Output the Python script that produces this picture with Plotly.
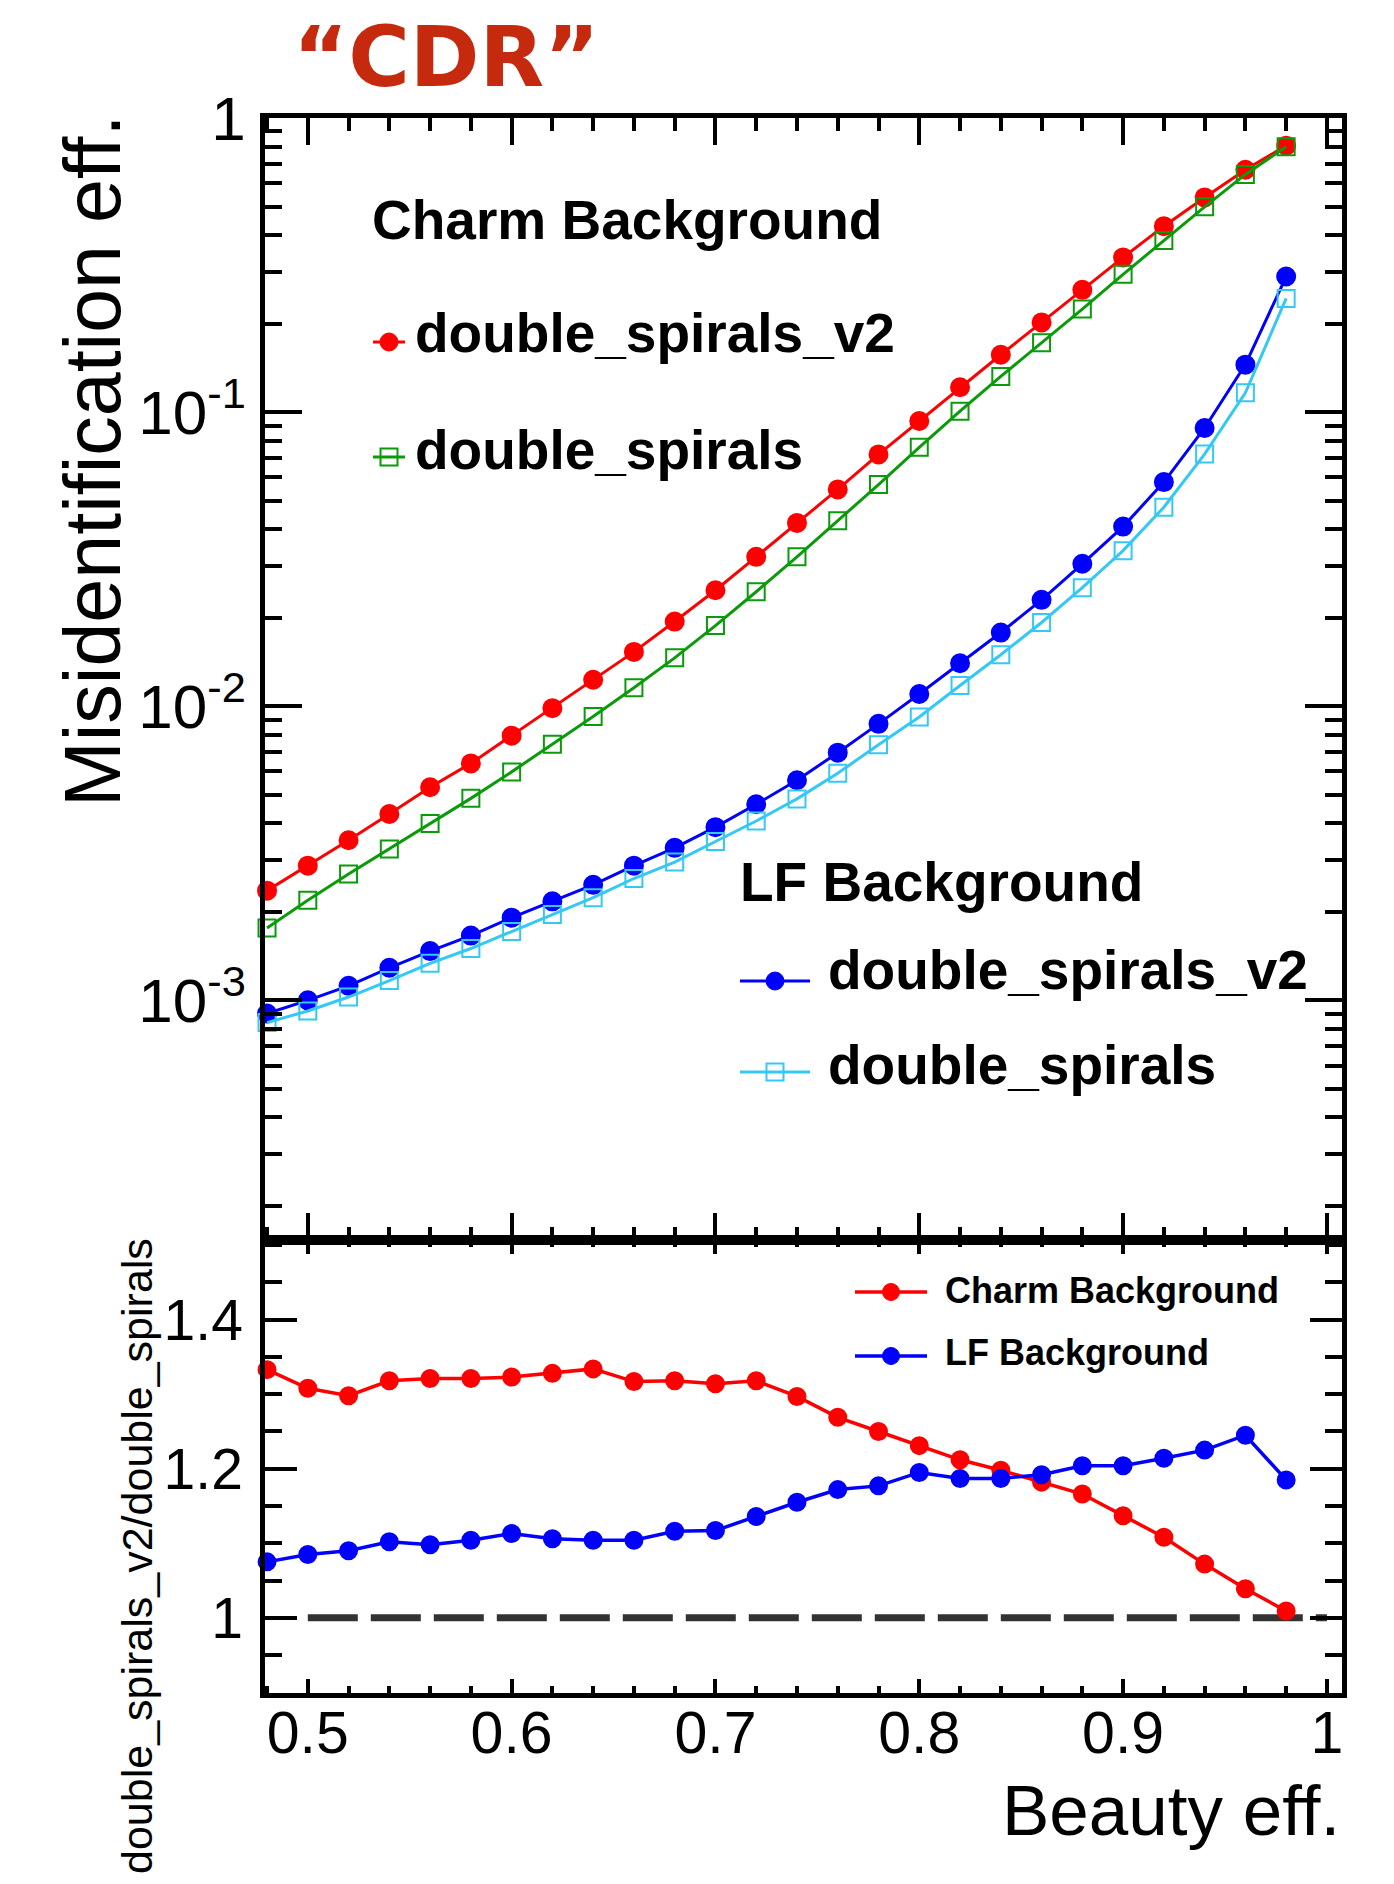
import plotly.graph_objects as go

# ---------------- data ----------------
beauty_eff = [0.48, 0.50, 0.52, 0.54, 0.56, 0.58, 0.60, 0.62, 0.64, 0.66, 0.68, 0.70, 0.72,
              0.74, 0.76, 0.78, 0.80, 0.82, 0.84, 0.86, 0.88, 0.90, 0.92, 0.94, 0.96, 0.98]

charm_double_spirals_v2 = [2.36e-3, 2.87e-3, 3.50e-3, 4.30e-3, 5.30e-3, 6.39e-3, 7.94e-3, 9.85e-3,
                           1.23e-2, 1.53e-2, 1.94e-2, 2.48e-2, 3.22e-2, 4.20e-2, 5.46e-2, 7.18e-2,
                           9.33e-2, 0.1215, 0.1567, 0.2018, 0.2604, 0.3357, 0.4287, 0.537, 0.667, 0.805]

charm_double_spirals = [1.76e-3, 2.19e-3, 2.69e-3, 3.27e-3, 3.99e-3, 4.86e-3, 5.98e-3, 7.42e-3,
                        9.23e-3, 1.156e-2, 1.46e-2, 1.88e-2, 2.45e-2, 3.22e-2, 4.27e-2, 5.67e-2,
                        7.59e-2, 0.1007, 0.1322, 0.172, 0.224, 0.294, 0.383, 0.499, 0.643, 0.798]

lf_double_spirals_v2 = [9.02e-4, 1.00e-3, 1.12e-3, 1.29e-3, 1.47e-3, 1.66e-3, 1.91e-3, 2.17e-3,
                        2.47e-3, 2.87e-3, 3.30e-3, 3.88e-3, 4.64e-3, 5.60e-3, 6.95e-3, 8.71e-3,
                        1.10e-2, 1.40e-2, 1.78e-2, 2.30e-2, 3.05e-2, 4.08e-2, 5.78e-2, 8.83e-2, 0.145, 0.289]

lf_double_spirals = [8.40e-4, 9.20e-4, 1.026e-3, 1.167e-3, 1.336e-3, 1.50e-3, 1.713e-3, 1.958e-3,
                     2.233e-3, 2.595e-3, 2.952e-3, 3.467e-3, 4.07e-3, 4.84e-3, 5.92e-3, 7.39e-3,
                     9.19e-3, 1.176e-2, 1.496e-2, 1.926e-2, 2.53e-2, 3.38e-2, 4.75e-2, 7.20e-2, 0.1163, 0.2435]

ratio_charm = [1.333, 1.308, 1.298, 1.318, 1.321, 1.321, 1.323, 1.328, 1.334, 1.317, 1.318, 1.314, 1.318,
               1.297, 1.269, 1.250, 1.231, 1.212, 1.198, 1.182, 1.166, 1.137, 1.108, 1.072, 1.039, 1.009]

ratio_lf = [1.075, 1.085, 1.090, 1.102, 1.098, 1.104, 1.113, 1.106, 1.104, 1.104, 1.116, 1.117, 1.136,
            1.155, 1.172, 1.177, 1.195, 1.187, 1.187, 1.192, 1.204, 1.204, 1.214, 1.225, 1.245, 1.185]

unity_x = [0.5, 1.0]
unity_y = [1.0, 1.0]

x_tickvals = [0.5, 0.6, 0.7, 0.8, 0.9, 1.0]
x_ticktext = ["0.5", "0.6", "0.7", "0.8", "0.9", "1"]
upper_y_tickvals = [1e-3, 1e-2, 1e-1, 1.0]
upper_y_ticktext = ["10<sup>-3</sup>", "10<sup>-2</sup>", "10<sup>-1</sup>", "1"]
lower_y_tickvals = [1.0, 1.2, 1.4]
lower_y_ticktext = ["1", "1.2", "1.4"]

# ---------------- styling / layout helpers ----------------
W, H = 1394, 1884
RED, GREEN, BLUE, CYAN = "#ff0000", "#0a9a0a", "#0000ff", "#36c8f5"
FONT = "Liberation Sans, Arial, Helvetica, sans-serif"


def px(x):
    return x / W


def py(y):
    return 1 - y / H


X_DOM = [px(265), px(1342)]
UP_DOM = [py(1240), py(118)]
LO_DOM = [py(1693), py(1240)]
X_RANGE = [0.479, 1.0074]

log_minor = [m * 10.0 ** e for e in (-4, -3, -2, -1) for m in range(2, 10)]

fig = go.Figure()


def add_series(x, y, color, symbol, xa, ya, size, lw):
    fig.add_trace(go.Scatter(
        x=x, y=y, mode="lines+markers", xaxis=xa, yaxis=ya, showlegend=False,
        cliponaxis=False,
        line=dict(color=color, width=lw),
        marker=dict(color=color, symbol=symbol, size=size,
                    line=dict(color=color, width=2))))


add_series(beauty_eff, charm_double_spirals_v2, RED, "circle", "x", "y", 18, 3)
add_series(beauty_eff, charm_double_spirals, GREEN, "square-open", "x", "y", 17, 3)
add_series(beauty_eff, lf_double_spirals_v2, BLUE, "circle", "x", "y", 18, 3)
add_series(beauty_eff, lf_double_spirals, CYAN, "square-open", "x", "y", 17, 3)

fig.add_trace(go.Scatter(x=unity_x, y=unity_y, mode="lines", xaxis="x2", yaxis="y2",
                         showlegend=False,
                         line=dict(color="#333333", width=7, dash="50px,13px")))
add_series(beauty_eff, ratio_charm, RED, "circle", "x2", "y2", 17, 3.5)
add_series(beauty_eff, ratio_lf, BLUE, "circle", "x2", "y2", 17, 3.5)

common_axis = dict(showline=True, linewidth=4.5, linecolor="black", mirror="ticks",
                   ticks="inside", tickwidth=3.5, tickcolor="black",
                   showgrid=False, zeroline=False, automargin=False)

fig.update_layout(
    width=W, height=H, margin=dict(l=0, r=0, t=0, b=0, autoexpand=False),
    paper_bgcolor="white", plot_bgcolor="white",
    font=dict(family=FONT, color="black"),
    xaxis=dict(domain=X_DOM, anchor="y", range=X_RANGE, tickmode="array",
               tickvals=x_tickvals, showticklabels=False, ticklen=27,
               minor=dict(ticks="inside", tick0=0.48, dtick=0.02, ticklen=13,
                          tickwidth=3.5, tickcolor="black", showgrid=False),
               **common_axis),
    yaxis=dict(domain=UP_DOM, anchor="x", type="log", range=[-3.815, 0.0],
               tickmode="array", tickvals=upper_y_tickvals, ticktext=upper_y_ticktext,
               tickfont=dict(size=62, family=FONT), ticklen=37, ticklabelstandoff=2,
               minor=dict(ticks="inside", tickmode="array", tickvals=log_minor, ticklen=17,
                          tickwidth=3.5, tickcolor="black", showgrid=False),
               **common_axis),
    xaxis2=dict(domain=X_DOM, anchor="y2", range=X_RANGE, tickmode="array",
                tickvals=x_tickvals, ticktext=x_ticktext, ticklen=14,
                tickfont=dict(size=59, family=FONT), ticklabelstandoff=-16,
                minor=dict(ticks="inside", tick0=0.48, dtick=0.02, ticklen=7,
                           tickwidth=3.5, tickcolor="black", showgrid=False),
                **common_axis),
    yaxis2=dict(domain=LO_DOM, anchor="x2", range=[0.899, 1.507], tickmode="array",
                tickvals=lower_y_tickvals, ticktext=lower_y_ticktext, ticklen=32,
                tickfont=dict(size=57, family=FONT), ticklabelstandoff=6,
                minor=dict(ticks="inside", tick0=1.0, dtick=0.05, ticklen=17,
                           tickwidth=3.5, tickcolor="black", showgrid=False),
                **common_axis),
)

annotations = []


def text(t, x, y, size, xanchor="left", bold=False, color="black", family=FONT, angle=0):
    annotations.append(dict(
        text=("<b>%s</b>" % t) if bold else t, x=px(x), y=py(y), xref="paper", yref="paper",
        xanchor=xanchor, yanchor="middle", showarrow=False, textangle=angle,
        font=dict(size=size, color=color, family=family)))


# title
text("\u201cCDR\u201d", 446, 57, 84, xanchor="center", bold=True, color="#c62a0e",
     family="DejaVu Sans, Lato, sans-serif")
# axis titles
text("Misidentification eff.", 92, 461, 79, xanchor="center", angle=-90)
text("double_spirals_v2/double_spirals", 137, 1556, 43, xanchor="center", angle=-90)
text("Beauty eff.", 1342, 1810, 71, xanchor="right")
# upper legends
text("Charm Background", 370, 220, 55, bold=True)
text("double_spirals_v2", 413, 333, 55, bold=True)
text("double_spirals", 413, 450, 55, bold=True)
text("LF Background", 738, 882, 55, bold=True)
text("double_spirals_v2", 826, 970, 55, bold=True)
text("double_spirals", 826, 1065, 55, bold=True)
# lower legend
text("Charm Background", 943, 1290, 36, bold=True)
text("LF Background", 943, 1352, 36, bold=True)

fig.update_layout(annotations=annotations)

shapes = []


def key(x0, x1, yc, color, kind, d, lw):
    shapes.append(dict(type="line", xref="paper", yref="paper", x0=px(x0), x1=px(x1),
                       y0=py(yc), y1=py(yc), line=dict(color=color, width=lw)))
    xc = (x0 + x1) / 2.0
    r = d / 2.0
    if kind == "circle":
        shapes.append(dict(type="circle", xref="paper", yref="paper",
                           x0=px(xc - r), x1=px(xc + r), y0=py(yc + r), y1=py(yc - r),
                           fillcolor=color, line=dict(color=color, width=1)))
    else:
        shapes.append(dict(type="rect", xref="paper", yref="paper",
                           x0=px(xc - r), x1=px(xc + r), y0=py(yc + r), y1=py(yc - r),
                           fillcolor="rgba(0,0,0,0)", line=dict(color=color, width=2)))


key(373, 405, 342, RED, "circle", 18, 3)
key(373, 405, 457, GREEN, "square", 17, 3)
key(740, 810, 981, BLUE, "circle", 18, 3)
key(740, 810, 1072, CYAN, "square", 17, 3)
key(855, 927, 1292, RED, "circle", 17, 3.5)
key(855, 927, 1356, BLUE, "circle", 17, 3.5)

fig.update_layout(shapes=shapes)

fig.write_html("out.html")
